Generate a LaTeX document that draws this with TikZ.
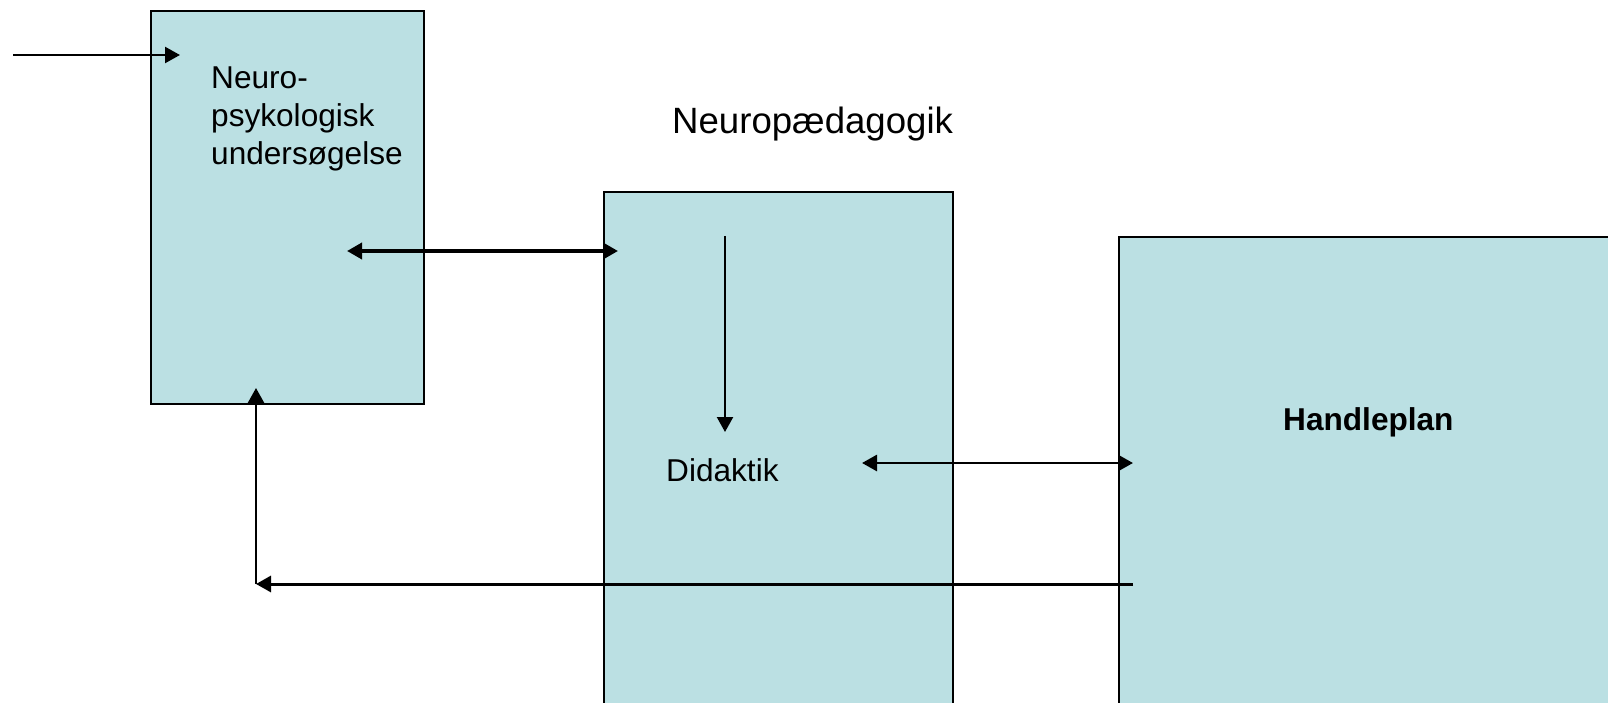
\documentclass[tikz,border=0pt]{standalone}
\usepackage{fontspec}
\setmainfont{Liberation Sans}
\usetikzlibrary{arrows.meta}
\definecolor{boxfill}{HTML}{BBE0E3}
\tikzset{
  panel/.style={draw=black, line width=2pt, fill=boxfill, rectangle, anchor=north west, inner sep=0pt},
  lbl/.style={inner sep=0pt, anchor=base west, font=\fontsize{31.6}{38}\selectfont},
  tip/.style={-{Triangle[length=15pt,width=16pt]}},
  dtip/.style={{Triangle[length=15pt,width=16pt]}-{Triangle[length=15pt,width=16pt]}},
  conn/.style={line width=2.3pt},
}
\begin{document}
\begin{tikzpicture}[x=1pt,y=-1pt]
\useasboundingbox (0,0) rectangle (1608,703);
\clip (0,0) rectangle (1608,703);
% boxes
\node[panel, minimum width=273pt, minimum height=393pt] (b1) at (150,10) {};
\node[panel, minimum width=349pt, minimum height=560pt] (b2) at (603,191) {};
\node[panel, minimum width=540pt, minimum height=520pt] (b3) at (1118,236) {};
% texts
\node[inner sep=0pt, anchor=north west, align=left, font=\fontsize{31.6}{38}\selectfont] (t1) at (211,67) {Neuro-\\psykologisk\\undersøgelse};
\node[lbl, font=\fontsize{36.6}{44}\selectfont] (t2) at (672,134) {Neuropædagogik};
\node[lbl] (t3) at (666,481) {Didaktik};
\node[lbl, font=\fontsize{31.6}{38}\selectfont\bfseries] (t4) at (1283,430) {Handleplan};
% connector end points
\coordinate (inS) at (13,55);
\coordinate (inE) at (180,55);
\coordinate (d1L) at (347,251);
\coordinate (d1R) at (618,251);
\coordinate (vT) at (725,236);
\coordinate (vB) at (725,432);
\coordinate (d2L) at (862,463);
\coordinate (d2R) at (1133,463);
\coordinate (fbS) at (1133,584);
\coordinate (fbC) at (256,584);
\coordinate (fbE) at (256,388);
% connectors
\draw[conn, tip] (inS) -- (inE);
\draw[line width=3.6pt, dtip] (d1L) -- (d1R);
\draw[conn, tip] (vT) -- (vB);
\draw[line width=2.8pt, dtip] (d2L) -- (d2R);
\draw[line width=3pt, tip] (fbS) -- (fbC);
\draw[conn, tip] (fbC) -- (fbE);
\end{tikzpicture}
\end{document}
